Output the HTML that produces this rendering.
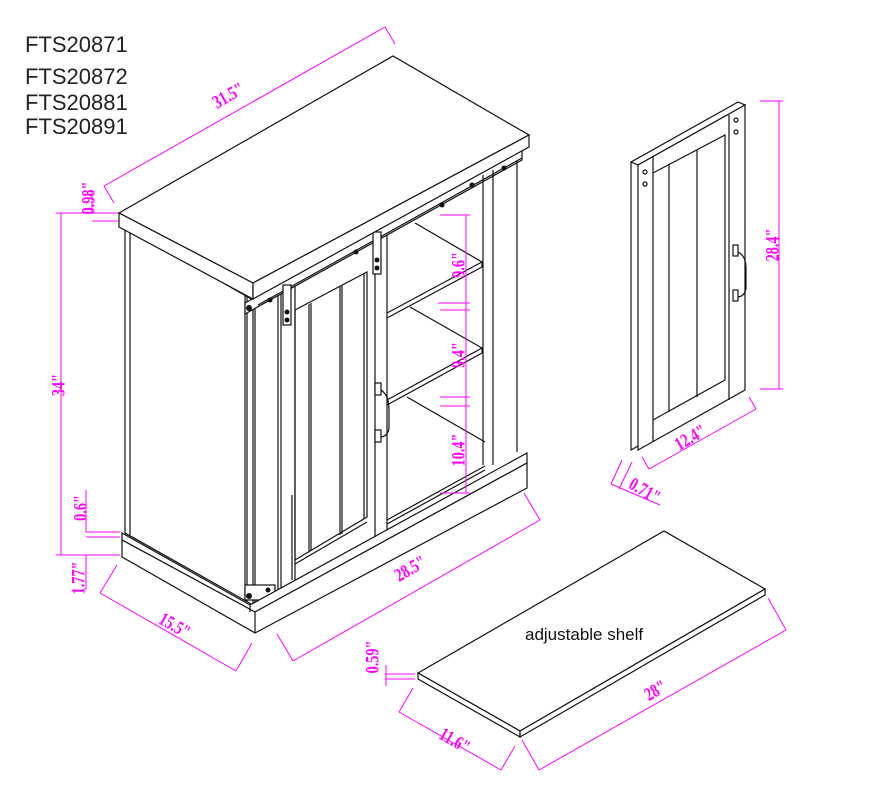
<!DOCTYPE html>
<html><head><meta charset="utf-8"><style>
html,body{margin:0;padding:0;background:#fff;}
svg{display:block}
.k{stroke:#111;stroke-width:1.2;fill:none}
.kf{stroke:#111;stroke-width:1.2;fill:#fff}
.m{stroke:#ff00ff;stroke-width:1;fill:none}
.mt{fill:#ff00ff;font-family:"Liberation Serif",serif;font-size:19px;font-weight:bold}
.mt text{text-anchor:middle}
.t{fill:#222;font-family:"Liberation Sans",sans-serif;font-size:22px}
</style></head><body>
<svg width="870" height="790" viewBox="0 0 870 790" xmlns="http://www.w3.org/2000/svg">
<text class="t" x="25" y="52">FTS20871</text>
<text class="t" x="25" y="84">FTS20872</text>
<text class="t" x="25" y="110">FTS20881</text>
<text class="t" x="25" y="134">FTS20891</text>

<!-- cabinet body -->
<polygon class="kf" points="125,227 253,300 253,605 125,533"/>
<line class="k" x1="130" y1="230" x2="130" y2="535"/>
<line class="k" x1="245" y1="296" x2="245" y2="600"/>
<line class="k" x1="247" y1="297" x2="247" y2="601"/>
<line class="k" x1="255" y1="302" x2="255" y2="604"/>
<line class="k" x1="278" y1="290" x2="278" y2="592"/>
<line class="k" x1="281" y1="288" x2="281" y2="590"/>
<!-- barn door -->
<line class="k" x1="295" y1="282" x2="295" y2="580"/>
<line class="k" x1="387" y1="232" x2="387" y2="530"/>
<line class="k" x1="375" y1="238" x2="375" y2="536"/>
<polyline class="k" points="295,310 367,272 367,517 295,560 295,310"/>
<line class="k" x1="309" y1="304" x2="309" y2="552"/>
<line class="k" x1="311" y1="303" x2="311" y2="551"/>
<line class="k" x1="340" y1="287" x2="340" y2="535"/>
<line class="k" x1="342" y1="286" x2="342" y2="534"/>
<line class="k" x1="364" y1="274" x2="364" y2="519"/>
<line class="k" x1="295" y1="564" x2="367" y2="522"/>
<line class="k" x1="292" y1="495" x2="292" y2="580"/>
<!-- rail -->
<polygon class="kf" points="245,303 522,150 522,160 245,314"/>
<line class="k" x1="258" y1="305" x2="522" y2="158"/>
<rect class="kf" x="283" y="285" width="8" height="40"/>
<rect class="kf" x="373" y="232" width="8" height="42"/>
<circle cx="287" cy="312" r="2.5" fill="#111"/><circle cx="287" cy="320" r="2.5" fill="#111"/>
<circle cx="377" cy="260" r="2.5" fill="#111"/><circle cx="377" cy="268" r="2.5" fill="#111"/>
<circle cx="270" cy="300" r="2.5" fill="#111"/><circle cx="356" cy="252" r="2.5" fill="#111"/>
<circle cx="442" cy="205" r="2.5" fill="#111"/><circle cx="472" cy="185" r="2.5" fill="#111"/>
<circle cx="504" cy="168" r="2.5" fill="#111"/><circle cx="249" cy="308" r="3" fill="#111"/>
<rect class="kf" x="245" y="585" width="30" height="15"/>
<circle cx="249" cy="596" r="3" fill="#111"/><circle cx="268" cy="590" r="2.5" fill="#111"/>
<!-- handle -->
<rect class="kf" x="375" y="383" width="6" height="12"/>
<rect class="kf" x="375" y="430" width="6" height="12"/>
<path class="k" d="M381,390 Q389,395 389,410 L389,428 Q388,436 381,437" stroke-width="2.2"/>
<!-- open area / shelves -->
<polyline class="k" points="387,313 482,262 482,267 387,318"/>
<line class="k" x1="415" y1="223" x2="482" y2="262"/>
<polyline class="k" points="387,400 482,348 482,353 387,405"/>
<line class="k" x1="410" y1="307" x2="482" y2="348"/>
<line class="k" x1="407" y1="397" x2="485" y2="442"/>
<line class="k" x1="387" y1="520" x2="485" y2="466"/>
<line class="k" x1="387" y1="524" x2="485" y2="470"/>
<!-- right leg -->
<line class="k" x1="483" y1="175" x2="483" y2="465"/>
<line class="k" x1="493" y1="170" x2="493" y2="465"/>
<line class="k" x1="517" y1="160" x2="517" y2="452"/>
<!-- base -->
<polygon class="kf" points="122,533 250,605 527,453 527,463 255,612 122,540"/>
<polygon class="kf" points="122,540 255,612 527,463 527,488 255,633 122,557"/>
<line class="k" x1="255" y1="612" x2="255" y2="633"/>
<line class="k" x1="250" y1="605" x2="250" y2="612"/>
<!-- top -->
<polygon class="kf" points="119,213 393,56 529,135 253,283"/>
<polygon class="kf" points="119,213 253,283 253,299 119,227"/>
<polygon class="kf" points="253,283 529,135 529,147 253,299"/>

<!-- door panel right -->
<polygon class="kf" points="631,162 645,155 645,442 631,450"/>
<polygon class="kf" points="631,162 738,102 745,105 638,165"/>
<polygon class="kf" points="638,165 745,105 745,390 638,450"/>
<line class="k" x1="653" y1="157" x2="653" y2="442"/>
<line class="k" x1="729" y1="115" x2="729" y2="400"/>
<polyline class="k" points="653,173 725,135 725,380 653,420"/>
<line class="k" x1="669" y1="165" x2="669" y2="412"/>
<line class="k" x1="697" y1="150" x2="697" y2="397"/>
<circle class="k" cx="645" cy="172" r="2"/><circle class="k" cx="645" cy="184" r="2"/>
<circle class="k" cx="736" cy="120" r="2"/><circle class="k" cx="736" cy="132" r="2"/>
<rect class="kf" x="733" y="245" width="5" height="11"/>
<rect class="kf" x="733" y="290" width="5" height="11"/>
<path class="k" d="M738,252 Q746,256 746,268 L746,288 Q745,296 738,297" stroke-width="2"/>

<!-- shelf -->
<polygon class="kf" points="418,673 664,531 765,589 520,731"/>
<polygon class="kf" points="418,673 520,731 520,737 418,679"/>
<polygon class="kf" points="520,731 765,589 765,595 520,737"/>
<text x="525" y="640" font-family="Liberation Sans,sans-serif" font-size="17" fill="#111">adjustable shelf</text>

<!-- dimensions -->
<g class="m">
<line x1="104" y1="186" x2="385" y2="27"/>
<line x1="104" y1="186" x2="114" y2="203"/><line x1="385" y1="27" x2="395" y2="44"/>
<line x1="61" y1="213" x2="61" y2="555"/>
<line x1="56" y1="213" x2="118" y2="213"/><line x1="56" y1="555" x2="120" y2="555"/>
<line x1="92" y1="221" x2="118" y2="221"/><line x1="92" y1="214" x2="92" y2="190"/>
<line x1="86" y1="532" x2="120" y2="532"/><line x1="86" y1="537" x2="120" y2="537"/>
<line x1="86" y1="490" x2="86" y2="532"/><line x1="86" y1="555" x2="86" y2="590"/>
<line x1="100" y1="593" x2="236" y2="671"/>
<line x1="100" y1="593" x2="117" y2="565"/><line x1="236" y1="671" x2="252" y2="643"/>
<line x1="293" y1="661" x2="540" y2="520"/>
<line x1="293" y1="661" x2="277" y2="634"/><line x1="540" y1="520" x2="524" y2="493"/>
<line x1="466" y1="215" x2="466" y2="493"/>
<line x1="440" y1="215" x2="470" y2="215"/><line x1="438" y1="303" x2="470" y2="303"/>
<line x1="440" y1="310" x2="470" y2="310"/><line x1="440" y1="397" x2="470" y2="397"/>
<line x1="440" y1="406" x2="470" y2="406"/><line x1="440" y1="493" x2="470" y2="493"/>
<line x1="779" y1="101" x2="779" y2="389"/>
<line x1="760" y1="101" x2="783" y2="101"/><line x1="760" y1="389" x2="783" y2="389"/>
<line x1="649" y1="469" x2="756" y2="409"/>
<line x1="649" y1="469" x2="642" y2="457"/><line x1="756" y1="409" x2="749" y2="397"/>
<line x1="611" y1="484" x2="622" y2="460"/><line x1="619" y1="489" x2="632" y2="462"/>
<line x1="611" y1="484" x2="660" y2="505"/>
<line x1="385" y1="674" x2="415" y2="674"/><line x1="385" y1="679" x2="415" y2="679"/>
<line x1="386" y1="665" x2="386" y2="686"/>
<line x1="399" y1="712" x2="501" y2="770"/>
<line x1="399" y1="712" x2="413" y2="688"/><line x1="501" y1="770" x2="515" y2="746"/>
<line x1="539" y1="770" x2="786" y2="630"/>
<line x1="539" y1="770" x2="522" y2="740"/><line x1="786" y1="630" x2="768" y2="598"/>
</g>
<g class="mt">
<text dy="0.35em" transform="translate(228,95) rotate(-30) scale(0.75,1)">31.5"</text>
<text dy="0.35em" transform="translate(88,198) rotate(-90) scale(0.75,1)">0.98"</text>
<text dy="0.35em" transform="translate(58,385) rotate(-90) scale(0.75,1)">34"</text>
<text dy="0.35em" transform="translate(80,508) rotate(-90) scale(0.75,1)">0.6"</text>
<text dy="0.35em" transform="translate(78,578) rotate(-90) scale(0.75,1)">1.77"</text>
<text dy="0.35em" transform="translate(175,625) rotate(30) scale(0.75,1)">15.5"</text>
<text dy="0.35em" transform="translate(410,568) rotate(-30) scale(0.75,1)">28.5"</text>
<text dy="0.35em" transform="translate(458,265) rotate(-90) scale(0.75,1)">9.6"</text>
<text dy="0.35em" transform="translate(458,355) rotate(-90) scale(0.75,1)">9.4"</text>
<text dy="0.35em" transform="translate(458,450) rotate(-90) scale(0.75,1)">10.4"</text>
<text dy="0.35em" transform="translate(772,245) rotate(-90) scale(0.75,1)">28.4"</text>
<text dy="0.35em" transform="translate(690,437) rotate(-30) scale(0.75,1)">12.4"</text>
<text dy="0.35em" transform="translate(645,490) rotate(30) scale(0.75,1)">0.71"</text>
<text dy="0.35em" transform="translate(372,657) rotate(-90) scale(0.75,1)">0.59"</text>
<text dy="0.35em" transform="translate(455,740) rotate(30) scale(0.75,1)">11.6"</text>
<text dy="0.35em" transform="translate(655,690) rotate(-30) scale(0.75,1)">28"</text>
</g>
</svg>
</body></html>
